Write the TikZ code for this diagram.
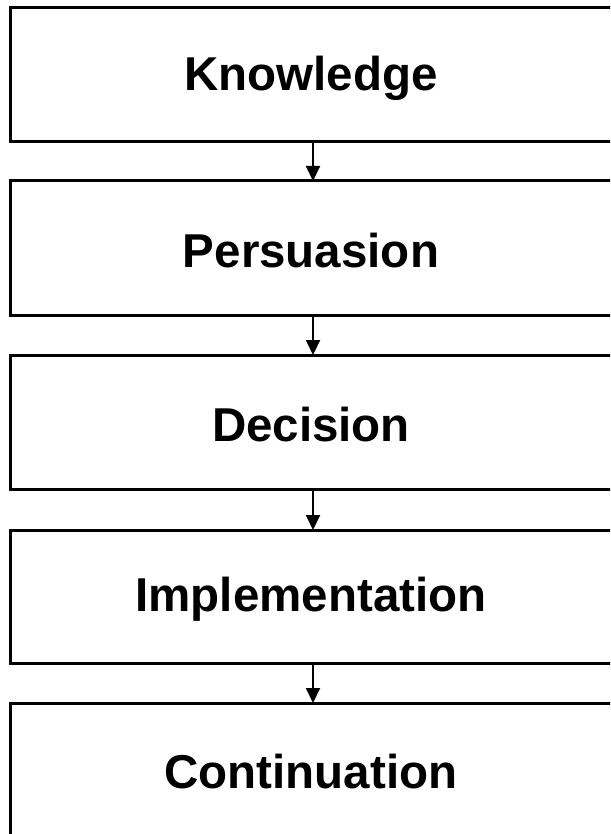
\documentclass[tikz,border=0pt]{standalone}
\usepackage{fontspec}
\setmainfont{Liberation Sans}
\usetikzlibrary{arrows.meta}
\begin{document}
\begin{tikzpicture}[x=1pt,y=1pt,
  stagebox/.style={draw=black, line width=3pt, fill=white},
  stagelabel/.style={font=\bfseries\fontsize{47.5}{56}\selectfont},
  flow/.style={line width=2pt, -{Triangle[width=14pt,length=15pt]}}]
\useasboundingbox (0,0) rectangle (610,-834);
\clip (0,0) rectangle (610,-834);
% five stage boxes, right edge running past the frame
\foreach \n/\t/\b in {1/8/142, 2/181/315, 3/355/489, 4/530/663, 5/703/837}{
  \draw[stagebox] (10,-\t) rectangle (614,-\b);
  \coordinate (top\n) at (313,-\t);
  \coordinate (bot\n) at (313,-\b);
}
\node[stagelabel] (k) at (311,-78) {Knowledge};
\node[stagelabel] (p) at (311,-251) {Persuasion};
\node[stagelabel] (d) at (311,-425) {Decision};
\node[stagelabel] (i) at (311,-599) {Implementation};
\node[stagelabel] (c) at (311,-772) {Continuation};
\draw[flow] (bot1) -- (top2);
\draw[flow] (bot2) -- (top3);
\draw[flow] (bot3) -- (top4);
\draw[flow] (bot4) -- (top5);
\end{tikzpicture}
\end{document}
